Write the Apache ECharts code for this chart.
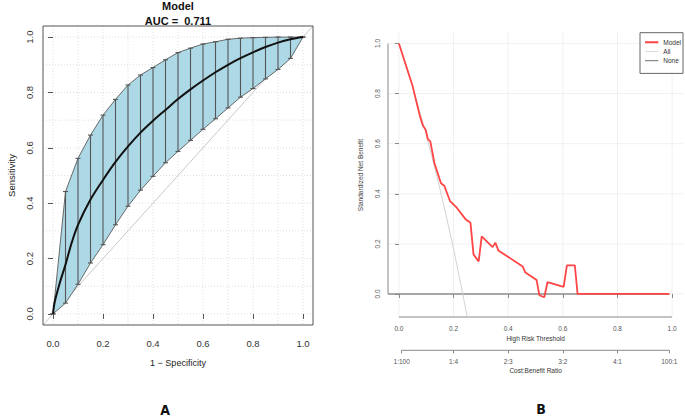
<!DOCTYPE html>
<html><head><meta charset="utf-8">
<script src="https://cdn.jsdelivr.net/npm/echarts@6/dist/echarts.min.js"></script>
<style>html,body{margin:0;padding:0;background:#fff}#c{width:685px;height:417px}</style>
</head><body><div id="c"></div>
<script>
// ---- Panel A: ROC ----
const rocX = [0,0.05,0.1,0.15,0.2,0.25,0.3,0.35,0.4,0.45,0.5,0.55,0.6,0.65,0.7,0.75,0.8,0.85,0.9,0.95,1.0];
const rocUpper = [0,0.442,0.562,0.646,0.718,0.775,0.827,0.863,0.890,0.918,0.944,0.960,0.975,0.983,0.992,0.996,0.998,0.999,1.0,1.0,1.0];
const rocLower = [0,0.039,0.107,0.184,0.250,0.322,0.389,0.447,0.497,0.546,0.587,0.627,0.667,0.705,0.744,0.783,0.814,0.849,0.883,0.923,1.0];
const curveX = [0,0.005,0.013,0.027,0.05,0.075,0.1,0.15,0.2,0.25,0.3,0.35,0.4,0.45,0.5,0.55,0.6,0.65,0.7,0.75,0.8,0.85,0.9,0.95,1.0];
const curveY = [0,0.035,0.066,0.112,0.178,0.258,0.322,0.413,0.484,0.549,0.605,0.655,0.698,0.737,0.776,0.811,0.843,0.873,0.900,0.924,0.945,0.964,0.980,0.992,1.0];
const rocTicks = [0,0.2,0.4,0.6,0.8,1.0];
const rocGrid = [0,0.1,0.2,0.3,0.4,0.5,0.6,0.7,0.8,0.9,1.0];
const aucText = 'AUC =  0.711';

// ---- Panel B: decision curve ----
const modelT = [0,0.05,0.077,0.088,0.098,0.106,0.115,0.13,0.154,0.166,0.187,0.209,0.245,0.262,0.273,0.292,0.303,0.343,0.353,0.364,0.453,0.462,0.504,0.514,0.532,0.544,0.603,0.615,0.644,0.654,0.99];
const modelNB = [1.0,0.83,0.709,0.672,0.656,0.618,0.609,0.522,0.442,0.432,0.371,0.348,0.297,0.284,0.158,0.130,0.230,0.187,0.205,0.174,0.110,0.087,0.056,-0.005,-0.013,0.047,0.028,0.114,0.114,0,0];
const allT = [0,0.05,0.1,0.15,0.2,0.25];
const allNB = [1.0,0.827,0.636,0.42,0.18,-0.09];
const noneT = [-0.04,0.99];
const noneNB = [0,0];
const dcaTicks = [0,0.2,0.4,0.6,0.8,1.0];
const cbTicks = [0.01,0.2,0.4,0.6,0.8,0.99];
const cbLabels = ['1:100','1:4','2:3','3:2','4:1','100:1'];

const FF = "'Liberation Sans', Arial, sans-serif";
const zip = (a,b) => a.map((x,i)=>[x,b[i]]);

// legend icons: thin horizontal bars centred in a 10-unit tall box (invisible zero-area ends set the box)
const barIcon = t => `path://M0,0L0.001,0M0,${5-t/2}L20,${5-t/2}L20,${5+t/2}L0,${5+t/2}ZM0,10L0.001,10`;

const chart = echarts.init(document.getElementById('c'), null, {renderer:'svg'});

const gridSeries = (xi, yi, vals, style) => ({
  type:'custom', xAxisIndex:xi, yAxisIndex:yi, silent:true, z:0,
  data: vals.map(v=>[v,v]), encode:{x:0,y:1},
  renderItem:(params, api)=>{
    const cs = params.coordSys;
    const p = api.coord([api.value(0), api.value(1)]);
    return {type:'group', children:[
      {type:'line', shape:{x1:p[0],y1:cs.y,x2:p[0],y2:cs.y+cs.height}, style},
      {type:'line', shape:{x1:cs.x,y1:p[1],x2:cs.x+cs.width,y2:p[1]}, style}
    ]};
  }
});

const option = {
  animation:false,
  textStyle:{fontFamily:FF},
  grid:[
    {left:43, top:26, width:270, height:299, show:true, borderColor:'#555', borderWidth:1, backgroundColor:'transparent', z:5},
    {left:388, top:33, width:295, height:284, show:false}
  ],
  xAxis:[
    {gridIndex:0, type:'value', min:-0.04, max:1.04,
     axisLine:{show:false}, splitLine:{show:false},
     axisTick:{show:true, customValues:rocTicks, length:5, lineStyle:{color:'#555'}},
     axisLabel:{customValues:rocTicks, formatter:v=>v.toFixed(1), fontSize:9.5, color:'#333', margin:13}},
    {gridIndex:1, type:'value', min:-0.04, max:1.04,
     axisLine:{show:false}, splitLine:{show:false},
     axisTick:{show:true, customValues:dcaTicks, length:4, lineStyle:{color:'#888'}},
     axisLabel:{customValues:dcaTicks, formatter:v=>v.toFixed(1), fontSize:6.5, color:'#555', margin:8}},
    {gridIndex:1, type:'value', min:-0.04, max:1.04, position:'bottom', offset:33.3,
     axisLine:{show:false}, splitLine:{show:false},
     axisTick:{show:true, customValues:cbTicks, length:3, lineStyle:{color:'#888'}},
     axisLabel:{customValues:cbTicks, formatter:v=>{const i=cbTicks.findIndex(t=>Math.abs(t-v)<1e-6);return i>=0?cbLabels[i]:'';}, fontSize:6.5, color:'#555', margin:8}}
  ],
  yAxis:[
    {gridIndex:0, type:'value', min:-0.04, max:1.04,
     axisLine:{show:false}, splitLine:{show:false},
     axisTick:{show:true, customValues:rocTicks, length:5, lineStyle:{color:'#555'}},
     axisLabel:{customValues:rocTicks, formatter:v=>v.toFixed(1), fontSize:9.5, color:'#333', rotate:90, margin:9}},
    {gridIndex:1, type:'value', min:-0.092, max:1.042,
     axisLine:{show:false}, splitLine:{show:false},
     axisTick:{show:true, customValues:dcaTicks, length:4, lineStyle:{color:'#888'}},
     axisLabel:{customValues:dcaTicks, formatter:v=>v.toFixed(1), fontSize:6.5, color:'#555', rotate:90, margin:7}}
  ],
  legend:{
    orient:'vertical', left:640, top:32.7, padding:[6,2,9.3,5], itemGap:2.2, itemWidth:13.3, itemHeight:6,
    symbolKeepAspect:false,
    borderColor:'#666', borderWidth:1, borderRadius:0, backgroundColor:'#fff',
    textStyle:{fontSize:6.5, color:'#333', fontFamily:FF},
    data:[
      {name:'Model', icon:barIcon(3.3)},
      {name:'All', icon:barIcon(1.5)},
      {name:'None', icon:barIcon(2.2)}
    ]
  },
  series:[
    gridSeries(0,0,rocGrid,{stroke:'#dedede', lineWidth:1, lineDash:[1,2]}),
    // diagonal
    {type:'line', xAxisIndex:0, yAxisIndex:0, data:[[-0.04,-0.04],[1.04,1.04]], showSymbol:false, symbol:'none', silent:true, z:1,
     lineStyle:{color:'#c8c8c8', width:1}},
    // CI band polygon
    {type:'custom', xAxisIndex:0, yAxisIndex:0, data:[[0,0]], silent:true, z:2,
     renderItem:(params, api)=>{
       const pts=[];
       rocX.forEach((x,i)=>pts.push(api.coord([x,rocUpper[i]])));
       for(let i=rocX.length-1;i>=0;i--) pts.push(api.coord([rocX[i],rocLower[i]]));
       return {type:'polygon', shape:{points:pts}, style:{fill:'#add8e6', stroke:'#5a5a5a', lineWidth:0.9}};
     }},
    // error bars
    {type:'custom', xAxisIndex:0, yAxisIndex:0, silent:true, z:3,
     data:rocX.map((x,i)=>[x,rocLower[i],rocUpper[i]]),
     encode:{x:0, y:[1,2]},
     renderItem:(params, api)=>{
       const x=api.value(0);
       const lo=api.coord([x,api.value(1)]), hi=api.coord([x,api.value(2)]);
       const c=2.5, st={stroke:'#555', lineWidth:1.1};
       return {type:'group', children:[
         {type:'line', shape:{x1:lo[0],y1:lo[1],x2:hi[0],y2:hi[1]}, style:st},
         {type:'line', shape:{x1:lo[0]-c,y1:lo[1],x2:lo[0]+c,y2:lo[1]}, style:st},
         {type:'line', shape:{x1:hi[0]-c,y1:hi[1],x2:hi[0]+c,y2:hi[1]}, style:st}
       ]};
     }},
    // smooth ROC curve
    {type:'line', xAxisIndex:0, yAxisIndex:0, data:zip(curveX,curveY), showSymbol:false, symbol:'none', smooth:0.35, silent:true, z:4,
     lineStyle:{color:'#111', width:2}},
    // right panel grid lines
    gridSeries(1,1,dcaTicks,{stroke:'#f0f0f0', lineWidth:1}),
    {name:'None', type:'line', xAxisIndex:1, yAxisIndex:1, data:zip(noneT,noneNB), showSymbol:false, symbol:'none', z:2,
     lineStyle:{color:'#8c8c8c', width:1.5}, itemStyle:{color:'#8c8c8c'}},
    {name:'All', type:'line', xAxisIndex:1, yAxisIndex:1, data:zip(allT,allNB), showSymbol:false, symbol:'none', smooth:0.2, z:2,
     lineStyle:{color:'#d0d0d0', width:1}, itemStyle:{color:'#d0d0d0'}},
    {name:'Model', type:'line', xAxisIndex:1, yAxisIndex:1, data:zip(modelT,modelNB), showSymbol:false, symbol:'none', z:3,
     lineStyle:{color:'#ff4545', width:1.8}, itemStyle:{color:'#ff4545'}}
  ]
};
chart.setOption(option);

const P = v => chart.convertToPixel({gridIndex:1}, v);
const yAx0 = P([-0.04,0]), yAx1 = P([-0.04,1]);
const xAx0 = P([0,-0.092]), xAx1 = P([1,-0.092]);
const cb0 = P([cbTicks[0],-0.092]), cb1 = P([cbTicks[cbTicks.length-1],-0.092]);
const cbY = cb0[1] + 33.3;
const axSt = {stroke:'#888', lineWidth:1};
const txt = (x,y,text,size,opts={}) => ({type:'text', x, y, rotation:opts.rot||0, silent:true,
  style:{text, fontSize:size, lineHeight:opts.lh||undefined, fontFamily:opts.ff||FF, fontWeight:opts.fw||'normal', fill:opts.fill||'#222', align:'center', verticalAlign:'middle'}});
const NARROW = "'Liberation Sans Narrow','DejaVu Sans Condensed',sans-serif";
chart.setOption({graphic:[
  {type:'line', silent:true, shape:{x1:yAx0[0],y1:yAx0[1],x2:yAx1[0],y2:yAx1[1]}, style:axSt},
  {type:'line', silent:true, shape:{x1:xAx0[0],y1:xAx0[1],x2:xAx1[0],y2:xAx1[1]}, style:axSt},
  {type:'line', silent:true, shape:{x1:cb0[0],y1:cbY,x2:cb1[0],y2:cbY}, style:axSt},
  txt(178,6,'Model',11,{fw:'bold',fill:'#111'}),
  txt(178,21,aucText,11,{fw:'bold',fill:'#111'}),
  txt(178,363,'1 − Specificity',9,{}),
  txt(11,175.5,'Sensitivity',9.5,{rot:Math.PI/2}),
  txt(360.7,175,'Standardized Net Benefit',6.5,{rot:Math.PI/2,fill:'#444'}),
  txt(535.6,338.7,'High Risk Threshold',6.5,{fill:'#333'}),
  txt(535.6,370.7,'Cost:Benefit Ratio',6.5,{fill:'#333'}),
  txt(165,409.5,'A',14,{fw:'bold',ff:NARROW,fill:'#111',lh:14}),
  txt(541,409,'B',14,{fw:'bold',ff:NARROW,fill:'#111',lh:14})
]});
</script></body></html>
